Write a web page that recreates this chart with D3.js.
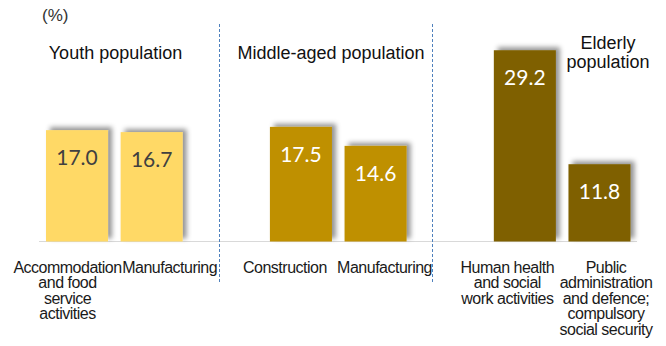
<!DOCTYPE html>
<html>
<head>
<meta charset="utf-8">
<script src="https://cdn.jsdelivr.net/npm/d3@7"></script>
<style>
  html, body { margin: 0; padding: 0; background: #fff; }
  svg { display: block; }
</style>
</head>
<body>
<svg id="chart" width="666" height="346"></svg>
<script>
// Population groups and their two leading industries
const groups = ["Youth population", "Middle-aged population", "Elderly population"];
const groupTitleLines = [["Youth population"], ["Middle-aged population"], ["Elderly", "population"]];
const categories = [
  ["Accommodation", "and food", "service", "activities"],
  ["Manufacturing"],
  ["Construction"],
  ["Manufacturing"],
  ["Human health", "and social", "work activities"],
  ["Public", "administration", "and defence;", "compulsory", "social security"]
];
const categoryGroup = [0, 0, 1, 1, 2, 2];
const values = [17.0, 16.7, 17.5, 14.6, 29.2, 11.8];
const unitLabel = "(%)";

// Layout and styling
const groupColors = ["#FFD966", "#BF9000", "#7F6000"];
const valueTextColors = ["#404040", "#ffffff", "#ffffff"];
const labelShift = [-9.5, 18, -16, 9, -17.5, 6.5];   // horizontal nudges of category labels
const titleCenters = [115.5, 331, 608];
const dividerPos = [0.32, 0.17];                     // fraction into the spacer slot

const svg = d3.select("#chart");

// Band slots: two bars per group with an empty spacer slot between groups
const slots = [];
categories.forEach((c, i) => {
  slots.push("c" + i);
  if (i < categories.length - 1 && categoryGroup[i + 1] !== categoryGroup[i]) slots.push("gap" + categoryGroup[i]);
});

const x = d3.scaleBand().domain(slots).range([46, 630.5]).paddingInner(0.169).paddingOuter(0);
const y = d3.scaleLinear().domain([0, 30]).range([241.5, 45]);

const defs = svg.append("defs");
const f = defs.append("filter").attr("id", "shadow")
  .attr("x", "-20%").attr("y", "-20%").attr("width", "150%").attr("height", "140%");
f.append("feDropShadow").attr("dx", 4).attr("dy", -3).attr("stdDeviation", 2.5)
  .attr("flood-color", "#000").attr("flood-opacity", 0.42);

// Baseline
svg.append("line")
  .attr("x1", 39).attr("x2", 637)
  .attr("y1", y(0)).attr("y2", y(0))
  .attr("stroke", "#d9d9d9").attr("stroke-width", 1.2);

// Dashed group dividers
const step = x.step();
dividerPos.forEach((p, g) => {
  const xv = Math.round(x("gap" + g) + p * step) + 0.5;
  svg.append("line")
    .attr("x1", xv).attr("x2", xv)
    .attr("y1", 24).attr("y2", 284)
    .attr("stroke", "#4F81BD").attr("stroke-width", 1)
    .attr("stroke-dasharray", "3,2");
});

// Bars
svg.append("g").selectAll("rect").data(values).join("rect")
  .attr("x", (d, i) => x("c" + i))
  .attr("width", x.bandwidth())
  .attr("y", d => y(d))
  .attr("height", d => y(0) - y(d))
  .attr("fill", (d, i) => groupColors[categoryGroup[i]])
  .attr("filter", "url(#shadow)");

// Value labels inside the bars
svg.append("g").selectAll("text").data(values).join("text")
  .attr("x", (d, i) => x("c" + i) + x.bandwidth() / 2)
  .attr("y", d => y(d) + 35)
  .attr("text-anchor", "middle")
  .attr("font-family", "Lato, 'Open Sans', sans-serif")
  .attr("font-size", 21)
  .attr("fill", (d, i) => valueTextColors[categoryGroup[i]])
  .text(d => d.toFixed(1));

// Category labels
const catG = svg.append("g")
  .attr("font-family", "'Liberation Sans', Arial, sans-serif")
  .attr("font-size", 16)
  .attr("letter-spacing", "-0.5")
  .attr("fill", "#1a1a1a")
  .attr("text-anchor", "middle");
categories.forEach((lines, i) => {
  const cx = x("c" + i) + x.bandwidth() / 2 + labelShift[i];
  const t = catG.append("text").attr("x", cx).attr("y", 273);
  lines.forEach((ln, k) => {
    t.append("tspan").attr("x", cx).attr("dy", k === 0 ? 0 : 15.4).text(ln);
  });
});

// Group titles (one text element per line)
const titleG = svg.append("g")
  .attr("font-family", "'Liberation Sans', Arial, sans-serif")
  .attr("font-size", 18)
  .attr("fill", "#111")
  .attr("text-anchor", "middle");
groupTitleLines.forEach((lines, g) => {
  const base = lines.length > 1 ? 49 : 59;
  lines.forEach((ln, k) => {
    titleG.append("text")
      .attr("x", titleCenters[g])
      .attr("y", base + k * 19)
      .text(ln);
  });
});

// Unit label
svg.append("text")
  .attr("x", 42).attr("y", 21)
  .attr("font-family", "'Liberation Sans', Arial, sans-serif")
  .attr("font-size", 17)
  .attr("fill", "#333")
  .text(unitLabel);
</script>
</body>
</html>
